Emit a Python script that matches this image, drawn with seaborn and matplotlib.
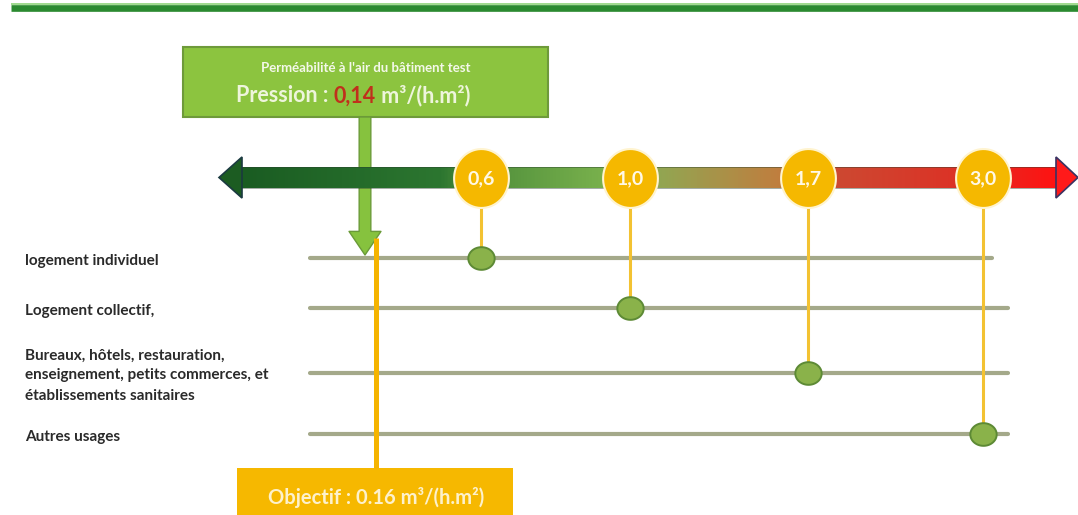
import numpy as np
import pandas as pd
import seaborn as sns
import matplotlib.pyplot as plt
from matplotlib.path import Path
from matplotlib.patches import Rectangle, Polygon
from matplotlib.colors import LinearSegmentedColormap

usages = ["logement individuel",
          "Logement collectif,",
          "Bureaux, hôtels, restauration,\nenseignement, petits commerces, et\nétablissements sanitaires",
          "Autres usages"]
seuils = [0.6, 1.0, 1.7, 3.0]
seuil_labels = ["0,6", "1,0", "1,7", "3,0"]
mesure = 0.14
mesure_label = "0,14"
objectif = 0.16
box_title = "Perméabilité à l'air du bâtiment test"
objectif_label = "Objectif : 0.16 m³/(h.m²)"

# Layout (pixels, y downwards)
row_y = [258, 308, 373, 434]
row_end = [992, 1008, 1008, 1008]
axis_y = 177.5
# the scale of the drawing is not linear: piecewise knots value -> pixel
knot_val = [-0.5, 0.14, 0.16, 0.6, 1.0, 1.7, 3.0, 3.6]
knot_px = [0, 365, 376, 481, 630, 808, 983, 1078]


def fwd(v):
    return np.interp(v, knot_val, knot_px)


def inv(p):
    return np.interp(p, knot_px, knot_val)


sns.set_theme(style='white')
plt.rcParams['font.family'] = ['Lato', 'DejaVu Sans']

fig = plt.figure(figsize=(10.78, 5.15), dpi=100)
bg = fig.add_axes([0, 0, 1, 1], zorder=0)
ax = fig.add_axes([0, 0, 1, 1], zorder=2)
ax.patch.set_alpha(0)

# top banner line
bg.plot([11, 1078], [7.5, 7.5], color='#2b8a30', lw=4.8, solid_capstyle='butt')
bg.plot([11, 1078], [3.5, 3.5], color='#8fd47a', lw=1.2, solid_capstyle='butt')

# gradient arrow (green -> red)
stops = [(240, '#1a5c22'), (440, '#2c7630'), (470, '#4c8c3a'), (600, '#78b04c'),
         (645, '#8cab54'), (785, '#c27c3e'), (830, '#cc4a32'), (960, '#dc3226'),
         (1058, '#ff1212')]
cmap = LinearSegmentedColormap.from_list(
    'perm', [((p - 240) / (1058 - 240), c) for p, c in stops])
bg.imshow(np.linspace(0, 1, 800).reshape(1, -1), cmap=cmap,
          extent=[240, 1058, 188, 167], aspect='auto', zorder=5)
bg.add_patch(Rectangle((240, 167), 818, 21, fc='none', ec='#2a4030', lw=0.6, alpha=0.5, zorder=6))
bg.add_patch(Polygon([[242, 157], [219, axis_y], [242, 198]], closed=True,
                     fc='#1c5c22', ec='#1b3a40', lw=1.2, zorder=6))
bg.add_patch(Polygon([[1056, 157], [1078, axis_y], [1056, 198]], closed=True,
                     fc='#ff1a1a', ec='#3a3262', lw=1.2, zorder=6))

# green measurement box
bg.add_patch(Rectangle((183, 47), 365, 70, fc='#8cc43f', ec='#6e9a3a', lw=1.5, zorder=3))
bg.text(366, 68, box_title, ha='center', va='center', fontsize=9.5,
        fontweight='bold', color='#f4f8ea', zorder=4)
t1 = bg.text(236, 96, "Pression : ", ha='left', va='center', fontsize=15.5,
             fontweight='bold', color='#eef5dc', zorder=4)
t2 = bg.annotate(mesure_label, xy=(1, 0), xycoords=t1, va='bottom', ha='left',
                 fontsize=15.5, fontweight='bold', color='#c0301c', zorder=4)
bg.annotate(" m³/(h.m²)", xy=(1, 0), xycoords=t2, va='bottom', ha='left',
            fontsize=15.5, fontweight='bold', color='#eef5dc', zorder=4)

# yellow objective box
bg.add_patch(Rectangle((237, 468), 276, 60, fc='#f6b800', ec='none', zorder=3))
bg.text(376, 497, objectif_label, ha='center', va='center', fontsize=14.5,
        fontweight='bold', color='#fdf1cc', zorder=4)

# category rows
for y, xe, lab in zip(row_y, row_end, usages):
    bg.plot([310, xe], [y, y], color='#a4a98a', lw=3, solid_capstyle='round', zorder=1)
    bg.text(25, y + 2.5, lab, ha='left', va='center', fontsize=11, fontweight='bold',
            color='#2a2a2a', linespacing=1.55)

bg.set_xlim(0, 1078)
bg.set_ylim(515, 0)
bg.axis('off')

# data layer, through the piecewise scale
ax.set_xscale('function', functions=(fwd, inv))

df = pd.DataFrame({'seuil': seuils, 'row': row_y, 'label': seuil_labels})

ax.vlines(df['seuil'], axis_y, df['row'], color='#f3c232', lw=2.2, zorder=1)
ax.vlines(objectif, 238, 468, color='#f5b400', lw=3.6, zorder=1)

t = np.linspace(0, 2 * np.pi, 64)
dot_marker = Path(np.c_[np.cos(t), 0.86 * np.sin(t)], closed=True)
bubble_marker = Path(np.c_[0.93 * np.cos(t), np.sin(t)], closed=True)

sns.scatterplot(data=df, x='seuil', y='row', ax=ax, marker=dot_marker, s=360,
                color='#8ab24a', edgecolor='#5d8a35', linewidth=1.4, zorder=3, legend=False)

# green arrow passes under the gradient band
bg.annotate('', xy=(365, 255), xytext=(365, 117),
            arrowprops=dict(arrowstyle='simple,head_length=0.85,head_width=1.15,tail_width=0.42',
                            mutation_scale=20, fc='#86c23e', ec='#6a9a38', lw=1,
                            shrinkA=0, shrinkB=0), zorder=4)

sns.scatterplot(x=df['seuil'], y=[axis_y] * len(df), ax=ax, marker=bubble_marker, s=1800,
                color='#f5b800', edgecolor='#fff4d0', linewidth=1.5, zorder=5, legend=False)
for v, lab in zip(df['seuil'], df['label']):
    ax.text(v, axis_y + 1, lab, ha='center', va='center', fontsize=14,
            fontweight='bold', color='#fff8e6', zorder=6)

ax.set_xlim(-0.5, 3.6)
ax.set_ylim(515, 0)
ax.axis('off')

fig.savefig('out.png', dpi=100)
